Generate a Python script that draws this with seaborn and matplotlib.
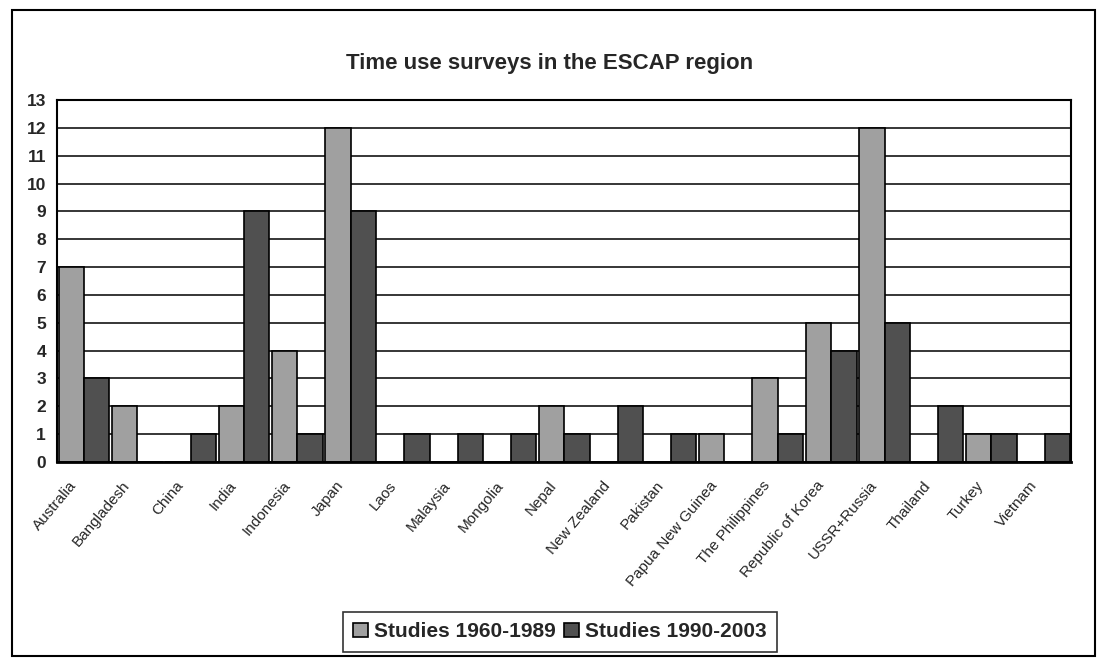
import numpy as np
import pandas as pd
import matplotlib
matplotlib.use("Agg")
import matplotlib.pyplot as plt
import matplotlib.transforms as mtrans
import seaborn as sns
from matplotlib.patches import Rectangle

countries = ["Australia", "Bangladesh", "China", "India", "Indonesia", "Japan",
             "Laos", "Malaysia", "Mongolia", "Nepal", "New Zealand", "Pakistan",
             "Papua New Guinea", "The Philippines", "Republic of Korea",
             "USSR+Russia", "Thailand", "Turkey", "Vietnam"]
studies_1960_1989 = [7, 2, 0, 2, 4, 12, 0, 0, 0, 2, 0, 0, 1, 3, 5, 12, 0, 1, 0]
studies_1990_2003 = [3, 0, 1, 9, 1, 9, 1, 1, 1, 1, 2, 1, 0, 1, 4, 5, 2, 1, 1]
series_names = ["Studies 1960-1989", "Studies 1990-2003"]

df = pd.DataFrame({
    "Country": countries * 2,
    "Series": [series_names[0]] * len(countries) + [series_names[1]] * len(countries),
    "Count": studies_1960_1989 + studies_1990_2003,
})

sns.set_style("white")
plt.rcParams["font.family"] = ["Liberation Sans", "DejaVu Sans"]

fig = plt.figure(figsize=(11, 6.59), dpi=100)
ax = fig.add_axes([0.052, 0.299, 0.922, 0.549])

sns.barplot(data=df, x="Country", y="Count", hue="Series", order=countries,
            palette=["#a0a0a0", "#505050"], edgecolor="black", linewidth=1.2,
            width=0.95, gap=0, ax=ax, legend=True)

ax.set_ylim(0, 13)
ax.set_xlim(-0.5, len(countries) - 0.5)
ax.set_yticks(range(0, 14))
ax.yaxis.grid(True, color="black", linewidth=1.1)
ax.set_axisbelow(True)
for s in ax.spines.values():
    s.set_color("black")
    s.set_linewidth(1.5)
ax.spines["bottom"].set_linewidth(2)

ax.set_xlabel("")
ax.set_ylabel("")
ax.tick_params(axis="y", which="major", direction="out", length=5, width=1.2,
               labelsize=12.5, color="black", pad=3)
for lbl in ax.get_yticklabels():
    lbl.set_fontweight("bold")

ax.set_xticks(np.arange(len(countries)))
ax.set_xticklabels(countries, rotation=50, ha="right", va="top",
                   rotation_mode="anchor", fontsize=11)
ax.tick_params(axis="x", which="major", length=0, pad=10)
shift = mtrans.ScaledTranslation(-11 / 72, -2 / 72, fig.dpi_scale_trans)
for lbl in ax.get_xticklabels():
    lbl.set_transform(lbl.get_transform() + shift)
ax.set_xticks(np.arange(-0.5, len(countries), 1), minor=True)
ax.tick_params(axis="x", which="minor", direction="out", length=6, width=1.2,
               color="black")

fig.text(0.5, 0.903, "Time use surveys in the ESCAP region", ha="center",
         va="center", fontsize=16, fontweight="bold")

handles, labels = ax.get_legend_handles_labels()
ax.get_legend().remove()
leg = fig.legend(handles, labels, loc="center", bbox_to_anchor=(0.509, 0.041),
                 ncol=2, frameon=True, fancybox=False, edgecolor="black",
                 handlelength=0.7, handleheight=0.7, handletextpad=0.3,
                 columnspacing=0.4, borderpad=0.5,
                 prop={"weight": "bold", "size": 15})
leg.get_frame().set_linewidth(1.2)

fig.patches.append(Rectangle((0.011, 0.004), 0.984, 0.981, transform=fig.transFigure,
                             fill=False, edgecolor="black", linewidth=1.5))

fig.savefig("out.png", dpi=100)
